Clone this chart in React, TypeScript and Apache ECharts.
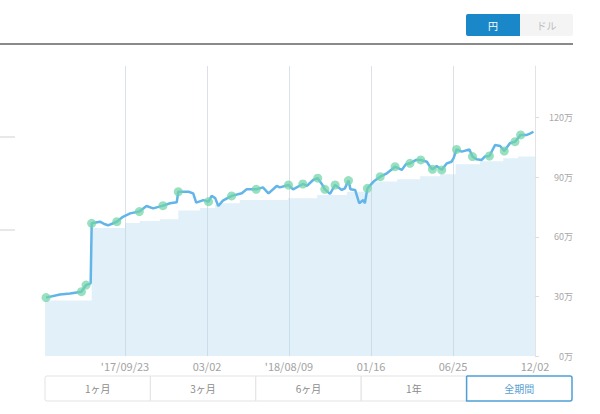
import React, { useEffect, useRef } from 'react';
import * as echarts from 'echarts';

// ---- data ----
const axisStartDate = '2017-04-16';
const axisEndDate = '2019-12-02';
const tickStepDays = 160;
const xTickLabels = ["'17/09/23", '03/02', "'18/08/09", '01/16', '06/25', '12/02'];
const yTickValues = [0, 30, 60, 90, 120];
const yMax = 146;

const currencyButtons = ['円', 'ドル'];
const periodButtons = ['1ヶ月', '3ヶ月', '6ヶ月', '1年', '全期間'];

// 評価額 (万円)
const valueDates = [
  '2017-04-22', '2017-05-19', '2017-06-08', '2017-06-30', '2017-07-09', '2017-07-18', '2017-07-20', '2017-08-05',
  '2017-08-15', '2017-08-21', '2017-09-07', '2017-09-19', '2017-10-03', '2017-10-21', '2017-11-04', '2017-11-17',
  '2017-12-06', '2017-12-20', '2018-01-02', '2018-01-05', '2018-01-25', '2018-02-03', '2018-02-09', '2018-02-23',
  '2018-03-05', '2018-03-11', '2018-03-18', '2018-03-24', '2018-04-02', '2018-04-19', '2018-05-09', '2018-05-18',
  '2018-06-06', '2018-06-19', '2018-06-30', '2018-07-16', '2018-07-22', '2018-08-08', '2018-08-17', '2018-09-05',
  '2018-09-13', '2018-09-25', '2018-10-04', '2018-10-12', '2018-10-18', '2018-10-28', '2018-11-07', '2018-11-20',
  '2018-11-26', '2018-12-03', '2018-12-07', '2018-12-16', '2018-12-24', '2019-01-01', '2019-01-04', '2019-01-09',
  '2019-01-21', '2019-02-03', '2019-02-16', '2019-03-04', '2019-03-17', '2019-03-25', '2019-04-02', '2019-04-14',
  '2019-04-23', '2019-05-05', '2019-05-11', '2019-05-16', '2019-05-24', '2019-06-03', '2019-06-13', '2019-06-22',
  '2019-06-26', '2019-07-02', '2019-07-12', '2019-07-27', '2019-08-02', '2019-08-10', '2019-08-20', '2019-08-26',
  '2019-09-04', '2019-09-15', '2019-09-25', '2019-10-03', '2019-10-14', '2019-10-24', '2019-11-04', '2019-11-16',
  '2019-11-22', '2019-11-29',
];
const valueAmounts = [
  29.4, 31.0, 31.5, 32.4, 35.7, 36.6, 66.8, 67.6,
  66.3, 65.8, 67.6, 70.1, 71.8, 72.7, 75.5, 74.3,
  75.7, 76.9, 77.4, 82.7, 82.7, 81.9, 77.2, 78.5,
  77.7, 80.6, 79.5, 75.5, 78.2, 80.6, 81.9, 83.9,
  83.9, 84.9, 81.9, 85.6, 84.9, 86.1, 83.9, 86.6,
  85.6, 88.6, 89.5, 86.6, 83.9, 81.6, 86.1, 83.6,
  84.4, 88.3, 83.9, 83.6, 76.9, 78.5, 76.9, 84.4,
  87.8, 90.3, 92.0, 95.3, 93.7, 96.5, 97.0, 98.7,
  98.7, 97.8, 95.3, 94.0, 95.7, 93.7, 97.0, 97.8,
  99.5, 104.0, 102.9, 104.0, 100.4, 99.0, 98.7, 100.4,
  100.7, 106.2, 105.7, 103.2, 107.1, 107.9, 111.3, 111.3,
  112.0, 112.9,
];
// indices of points marked with a dot (events)
const eventIndices = [0, 3, 4, 6, 10, 13, 16, 19, 24, 29, 32, 37, 39, 42, 44, 46, 49, 55, 57, 59, 62, 64, 67, 69, 73, 76, 80, 83, 85, 86];

// 元本 (万円), step changes
const principalDates = [
  '2017-04-20', '2017-07-20', '2017-09-23', '2017-10-22', '2017-11-30', '2018-01-05', '2018-02-16', '2018-03-18',
  '2018-03-27', '2018-05-05', '2018-08-07', '2018-10-03', '2018-11-30', '2019-01-15', '2019-03-08', '2019-04-22',
  '2019-05-31', '2019-06-30', '2019-08-17', '2019-10-01', '2019-10-30', '2019-12-02',
];
const principalAmounts = [
  28.0, 64.4, 67.0, 68.0, 68.8, 73.3, 74.5, 76.0,
  76.9, 78.5, 79.4, 81.0, 82.7, 87.8, 89.0, 90.5,
  91.5, 96.5, 98.0, 99.5, 100.4, 100.4,
];

const toUTC = (s: string) => {
  const [y, m, d] = s.split('-').map(Number);
  return Date.UTC(y, m - 1, d);
};
const dayOffset = (s: string) => Math.round((toUTC(s) - toUTC(axisStartDate)) / 86400000);

const FONT = '"Noto Sans CJK JP", "Noto Sans", sans-serif';

export default function App() {
  const ref = useRef<HTMLDivElement>(null);

  useEffect(() => {
    if (!ref.current) return;
    const chart = echarts.init(ref.current, undefined, { renderer: 'svg' });

    const graphics: any[] = [];
    // separator line
    graphics.push({
      type: 'line',
      shape: { x1: 0, y1: 44, x2: 573, y2: 44 },
      style: { stroke: '#8a8a8a', lineWidth: 2 },
    });
    // stray left lines
    [137, 230].forEach((y) =>
      graphics.push({
        type: 'line',
        shape: { x1: 0, y1: y, x2: 15, y2: y },
        style: { stroke: '#e0e0e0', lineWidth: 1.5 },
      })
    );
    // currency toggle
    const cx = [466, 520];
    const cw = [54, 53];
    currencyButtons.forEach((label, i) => {
      graphics.push({
        type: 'rect',
        shape: { x: cx[i], y: 14, width: cw[i], height: 22, r: i === 0 ? [2, 0, 0, 2] : [0, 2, 2, 0] },
        style: { fill: i === 0 ? '#1a87c9' : '#f4f4f4' },
      });
      graphics.push({
        type: 'text',
        x: cx[i] + cw[i] / 2,
        y: 25,
        style: {
          text: label,
          fill: i === 0 ? '#ffffff' : '#bdbdbd',
          fontSize: 10,
          fontFamily: FONT,
          align: 'center',
          verticalAlign: 'middle',
        },
      });
    });
    // period buttons
    const bx0 = 45;
    const bw = (572 - 45) / periodButtons.length;
    periodButtons.forEach((label, i) => {
      const active = i === periodButtons.length - 1;
      if (!active) {
        graphics.push({
          type: 'rect',
          shape: { x: bx0 + i * bw, y: 376, width: bw, height: 25, r: i === 0 ? [2, 0, 0, 2] : 0 },
          style: { fill: '#ffffff', stroke: '#e3e3e3', lineWidth: 1 },
        });
      }
      graphics.push({
        type: 'text',
        x: bx0 + i * bw + bw / 2,
        y: 388.5,
        style: {
          text: label,
          fill: active ? '#5b9fd3' : '#8c8c8c',
          fontSize: 10,
          fontFamily: FONT,
          align: 'center',
          verticalAlign: 'middle',
        },
      });
    });
    const ai = periodButtons.length - 1;
    graphics.push({
      type: 'rect',
      shape: { x: bx0 + ai * bw, y: 376, width: bw, height: 25, r: [0, 2, 2, 0] },
      style: { fill: 'none', stroke: '#4d9fd6', lineWidth: 1.5 },
      z: 10,
    });

    const xMax = dayOffset(axisEndDate);
    const gridLineValues: number[] = [];
    for (let v = tickStepDays; v < xMax; v += tickStepDays) gridLineValues.push(v);

    chart.setOption({
      animation: false,
      textStyle: { fontFamily: FONT },
      grid: { left: 43, right: 65, top: 66, bottom: 58 },
      xAxis: {
        type: 'value',
        min: 0,
        max: xMax,
        interval: tickStepDays,
        axisLine: { show: false, onZero: false },
        axisTick: { show: false },
        axisLabel: {
          color: '#a3a3a3',
          fontSize: 11,
          margin: 4,
          showMinLabel: false,
          formatter: (v: number) => {
            const i = Math.round(v / tickStepDays) - 1;
            return i >= 0 && i < xTickLabels.length ? xTickLabels[i] : '';
          },
        },
        splitLine: { show: false },
      },
      yAxis: {
        type: 'value',
        position: 'right',
        min: 0,
        max: yMax,
        interval: 30,
        axisLine: { show: true, onZero: false, lineStyle: { color: '#e4e4e4', width: 1 } },
        axisTick: { show: true, length: 4, lineStyle: { color: '#dddddd' }, customValues: yTickValues },
        axisLabel: {
          customValues: yTickValues,
          color: '#a8a8a8',
          fontSize: 9,
          align: 'right',
          margin: 38,
          formatter: (v: number) => (v % 30 === 0 ? `${v}万` : ''),
        },
        splitLine: { show: false },
      },
      series: [
        {
          name: '元本',
          type: 'line',
          step: 'end',
          symbol: 'none',
          silent: true,
          lineStyle: { width: 0, opacity: 0 },
          areaStyle: { color: 'rgba(178,215,238,0.38)', opacity: 1 },
          data: principalDates.map((d, i) => [dayOffset(d), principalAmounts[i]]),
          markLine: {
            silent: true,
            symbol: 'none',
            label: { show: false },
            lineStyle: { color: '#dbe1e6', width: 1, type: 'solid' },
            data: gridLineValues.map((v) => ({ xAxis: v })),
            z: 0,
          },
          z: 1,
        },
        {
          name: '評価額',
          type: 'line',
          showAllSymbol: true,
          symbolSize: 9,
          itemStyle: { color: 'rgba(112,212,168,0.72)', borderWidth: 0 },
          lineStyle: { color: '#62b5e8', width: 2.5 },
          data: valueDates.map((d, i) => ({
            value: [dayOffset(d), valueAmounts[i]],
            symbol: eventIndices.includes(i) ? 'circle' : 'none',
          })),
          z: 3,
        },
      ],
      graphic: graphics,
    });

    return () => chart.dispose();
  }, []);

  return (
    <div
      ref={ref}
      style={{ position: 'absolute', left: 0, top: 0, width: 600, height: 414, background: '#fff' }}
    />
  );
}
